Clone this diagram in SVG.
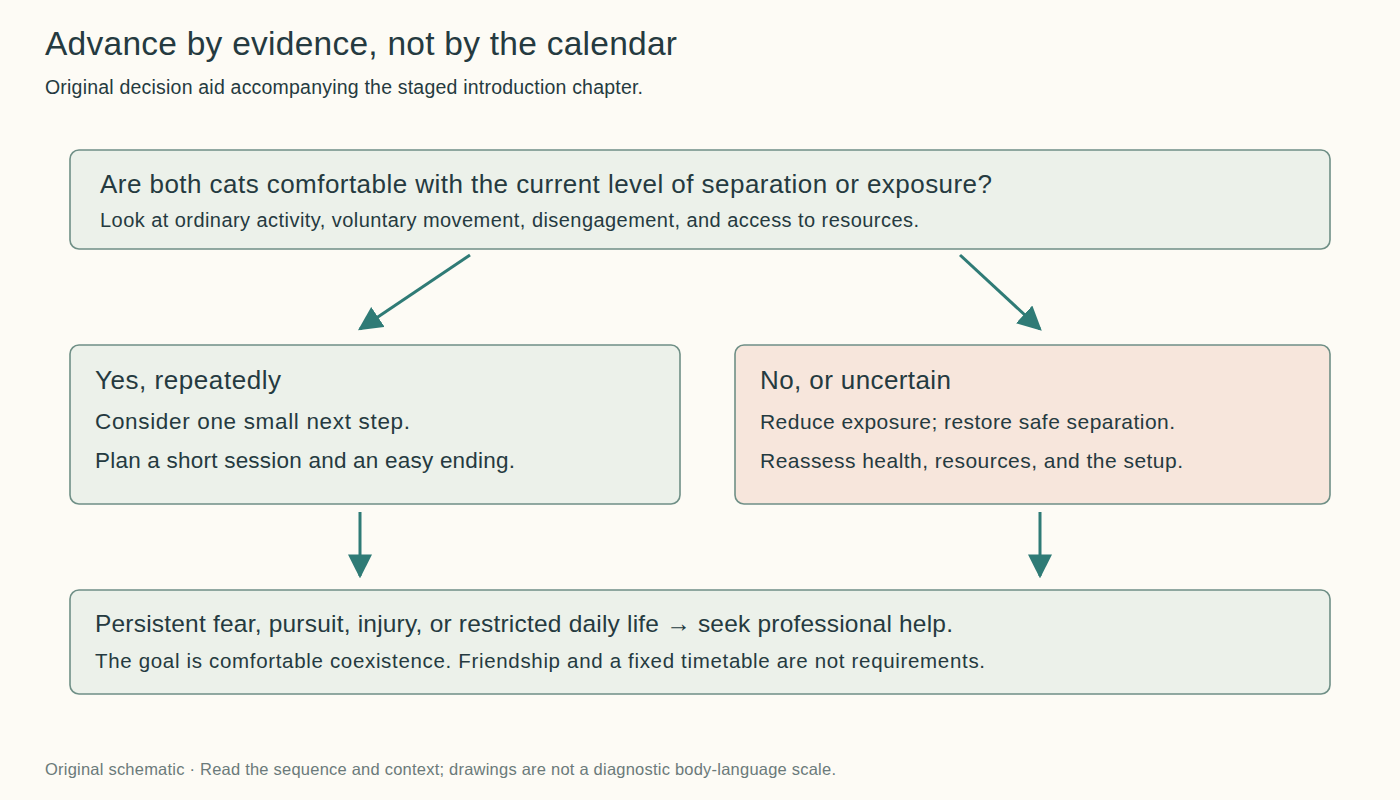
<svg xmlns="http://www.w3.org/2000/svg" width="1400" height="800" viewBox="0 0 1400 800">
<style>
text{font-family:"Liberation Sans",Arial,sans-serif;fill:#253a40}
.box{fill:#ecf1ea;stroke:#6f8f86;stroke-width:1.6}
.warm{fill:#f7e6dc}
.con line{stroke:#2f7b76;stroke-width:3}
</style>
<defs><marker id="a" viewBox="0 0 10 10" refX="9" refY="5" markerWidth="8" markerHeight="8" orient="auto"><path d="M0,0L10,5L0,10z" fill="#2f7b76"/></marker></defs>
<rect width="1400" height="800" fill="#fdfbf5"/>
<text x="45" y="55" font-size="33.5" textLength="632" lengthAdjust="spacing">Advance by evidence, not by the calendar</text>
<text x="45" y="94" font-size="19.5" textLength="598" lengthAdjust="spacing">Original decision aid accompanying the staged introduction chapter.</text>
<g id="q"><rect class="box" x="70" y="150" width="1260" height="99" rx="9"/>
<text x="100" y="193" font-size="26" textLength="892" lengthAdjust="spacing">Are both cats comfortable with the current level of separation or exposure?</text>
<text x="100" y="227" font-size="20" textLength="819" lengthAdjust="spacing">Look at ordinary activity, voluntary movement, disengagement, and access to resources.</text></g>
<g id="yes"><rect class="box" x="70" y="345" width="610" height="159" rx="9"/>
<text x="95" y="389" font-size="26" textLength="186" lengthAdjust="spacing">Yes, repeatedly</text>
<text x="95" y="429" font-size="22.5" textLength="315" lengthAdjust="spacing">Consider one small next step.</text>
<text x="95" y="468" font-size="22.5" textLength="420" lengthAdjust="spacing">Plan a short session and an easy ending.</text></g>
<g id="no"><rect class="box warm" x="735" y="345" width="595" height="159" rx="9"/>
<text x="760" y="389" font-size="26" textLength="191" lengthAdjust="spacing">No, or uncertain</text>
<text x="760" y="429" font-size="21" textLength="415" lengthAdjust="spacing">Reduce exposure; restore safe separation.</text>
<text x="760" y="468" font-size="21" textLength="423" lengthAdjust="spacing">Reassess health, resources, and the setup.</text></g>
<g id="end"><rect class="box" x="70" y="590" width="1260" height="104" rx="9"/>
<text x="95" y="632" font-size="24.5" textLength="858" lengthAdjust="spacing">Persistent fear, pursuit, injury, or restricted daily life → seek professional help.</text>
<text x="95" y="668" font-size="20.5" textLength="890" lengthAdjust="spacing">The goal is comfortable coexistence. Friendship and a fixed timetable are not requirements.</text></g>
<g class="con">
<line x1="470" y1="255" x2="360" y2="329" marker-end="url(#a)"/>
<line x1="960" y1="255" x2="1040" y2="329" marker-end="url(#a)"/>
<line x1="360" y1="512" x2="360" y2="576" marker-end="url(#a)"/>
<line x1="1040" y1="512" x2="1040" y2="576" marker-end="url(#a)"/>
</g>
<text x="45" y="775" font-size="16.5" textLength="791" lengthAdjust="spacing" style="fill:#6b7a7a">Original schematic · Read the sequence and context; drawings are not a diagnostic body-language scale.</text>
</svg>
